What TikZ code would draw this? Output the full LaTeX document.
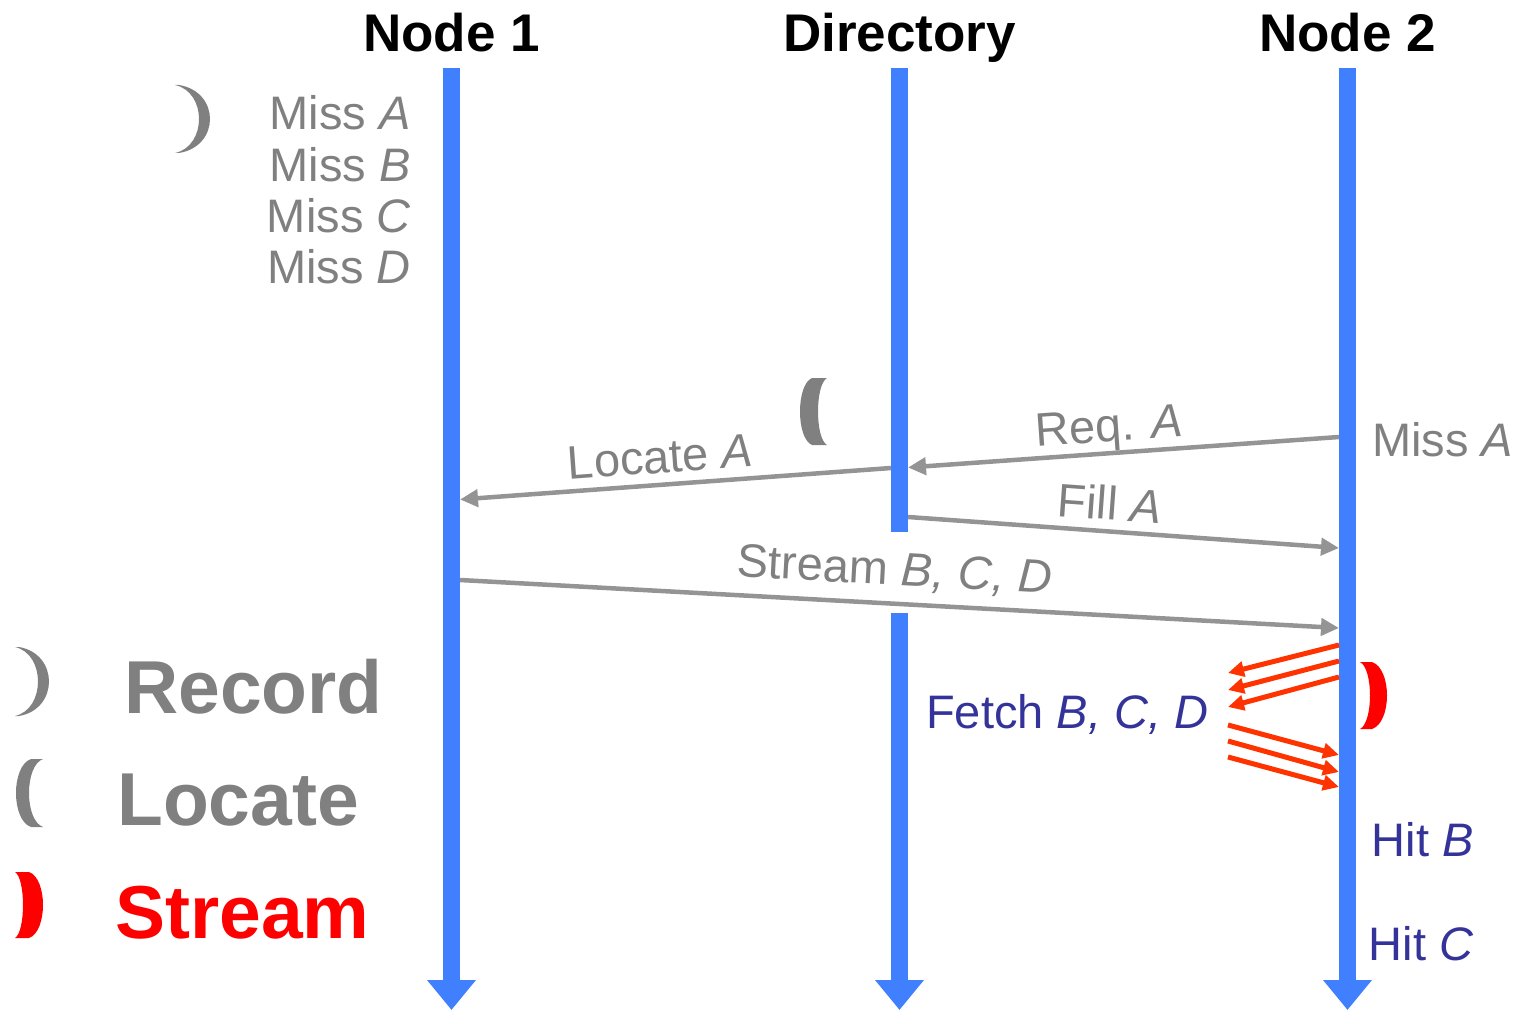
\documentclass[tikz,border=0pt]{standalone}
\usepackage{fontspec}
\setmainfont{Liberation Sans}
\usetikzlibrary{arrows.meta}

\definecolor{lifeblue}{RGB}{64,128,255}
\definecolor{txtgray}{RGB}{128,128,128}
\definecolor{msggray}{RGB}{148,148,148}
\definecolor{hitblue}{RGB}{51,51,153}
\definecolor{fetchred}{RGB}{255,51,0}
\definecolor{streamred}{RGB}{255,0,0}

\tikzset{
  lifeline/.style={line width=17pt, draw=lifeblue},
  lifeend/.style={lifeline, -{Triangle[length=30pt,width=47pt]}},
  msg/.style={line width=4.5pt, draw=msggray, -{Triangle[length=18pt,width=17pt]}},
  fetcharrow/.style={line width=5pt, draw=fetchred, -{Triangle[length=16pt,width=15pt]}},
  head/.style={inner sep=0pt, anchor=base, font=\fontsize{53}{60}\selectfont\bfseries},
  lbl/.style={inner sep=0pt, text=txtgray, font=\fontsize{47}{54}\selectfont},
  hit/.style={inner sep=0pt, text=hitblue, font=\fontsize{47}{54}\selectfont},
  legend/.style={inner sep=0pt, anchor=base west, font=\fontsize{75}{84}\selectfont\bfseries},
  % crescent-shaped bracket: height / tip width / outer bulge / inner bulge / colour
  pics/crescent/.style n args={5}{code={
    \fill[#5] (0,0) -- (#2,0)
      .. controls ({#2+(#3-#2)/0.75},{0.1*#1}) and ({#2+(#3-#2)/0.75},{0.9*#1}) .. (#2,#1)
      -- (0,#1)
      .. controls ({#4/0.75},{0.9*#1}) and ({#4/0.75},{0.1*#1}) .. (0,0) -- cycle;
  }},
}

\begin{document}
\begin{tikzpicture}[x=1pt,y=-1pt]
\useasboundingbox (0,0) rectangle (1521,1011);

% headings
\node[head] (h1) at (451.5,52) {Node 1};
\node[head] (hd) at (899.5,52) {Directory};
\node[head] (h2) at (1347.5,52) {Node 2};

% lifelines
\coordinate (n1top) at (451.5,68);
\coordinate (n1bot) at (451.5,1010);
\coordinate (dtop) at (899.5,68);
\coordinate (dcut) at (899.5,532);
\coordinate (dres) at (899.5,613);
\coordinate (dbot) at (899.5,1010);
\coordinate (n2top) at (1347.5,68);
\coordinate (n2bot) at (1347.5,1010);
\draw[lifeend] (n1top) -- (n1bot);
\draw[lifeline] (dtop) -- (dcut);
\draw[lifeend] (dres) -- (dbot);
\draw[lifeend] (n2top) -- (n2bot);

% misses recorded at node 1
\pic at (175,85) {crescent={68}{4}{35}{24}{txtgray}};
\node[lbl, anchor=base east] (m1) at (411,130) {Miss \textit{A}};
\node[lbl, anchor=base east] (m2) at (411,181.7) {Miss \textit{B}};
\node[lbl, anchor=base east] (m3) at (411,232.5) {Miss \textit{C}};
\node[lbl, anchor=base east] (m4) at (411,283.3) {Miss \textit{D}};

% message end points on the lifelines
\coordinate (reqS) at (1339,437);
\coordinate (reqE) at (908,467.5);
\coordinate (locS) at (891,468);
\coordinate (locE) at (460,499.5);
\coordinate (fillS) at (908,517);
\coordinate (fillE) at (1339,548);
\coordinate (strS) at (460,580);
\coordinate (strE) at (1339,628);

\draw[msg] (reqS) -- (reqE);
\draw[msg] (locS) -- (locE);
\draw[msg] (fillS) -- (fillE);
\draw[msg] (strS) -- (strE);

\node[lbl, anchor=base, rotate=4.05] (lreq) at (1110,441.5) {Req. \textit{A}};
\node[lbl, anchor=base, rotate=4.18] (lloc) at (661.5,472.8) {Locate \textit{A}};
\node[lbl, anchor=base, rotate=-4.12] (lfill) at (1109,519.8) {Fill \textit{A}};
\node[lbl, anchor=base, rotate=-3.13] (lstr) at (894,585) {Stream \textit{B, C, D}};

\node[lbl, anchor=base west] (m2a) at (1372,456.7) {Miss \textit{A}};

% locate bracket at the directory
\pic[xscale=-1] at (827,378) {crescent={67}{15}{27}{9}{txtgray}};

% stream bracket and fetches at node 2
\pic at (1360,662) {crescent={67}{12}{27}{10}{streamred}};

\coordinate (fo1) at (1339,645);
\coordinate (fo2) at (1339,661);
\coordinate (fo3) at (1339,677);
\coordinate (fi1) at (1228,673);
\coordinate (fi2) at (1228,690);
\coordinate (fi3) at (1228,707);
\coordinate (ro1) at (1228,725);
\coordinate (ro2) at (1228,741);
\coordinate (ro3) at (1228,757);
\coordinate (ri1) at (1339,755);
\coordinate (ri2) at (1339,772);
\coordinate (ri3) at (1339,787);
\draw[fetcharrow] (fo1) -- (fi1);
\draw[fetcharrow] (fo2) -- (fi2);
\draw[fetcharrow] (fo3) -- (fi3);
\draw[fetcharrow] (ro1) -- (ri1);
\draw[fetcharrow] (ro2) -- (ri2);
\draw[fetcharrow] (ro3) -- (ri3);

\node[hit, anchor=base west] (fetch) at (926,728.3) {Fetch \textit{B, C, D}};
\node[hit, anchor=base west] (hitb) at (1371.5,856.7) {Hit \textit{B}};
\node[hit, anchor=base west] (hitc) at (1368.5,960) {Hit \textit{C}};

% legend
\pic at (15,647) {crescent={69}{4}{34}{23}{txtgray}};
\node[legend, text=txtgray] (lgrec) at (124,713) {Record};
\pic[xscale=-1] at (43,759) {crescent={68}{12}{27}{14}{txtgray}};
\node[legend, text=txtgray] (lgloc) at (117,825) {Locate};
\pic at (15,872) {crescent={66}{14}{28}{8}{streamred}};
\node[legend, text=streamred] (lgstr) at (115,938) {Stream};
\end{tikzpicture}
\end{document}
